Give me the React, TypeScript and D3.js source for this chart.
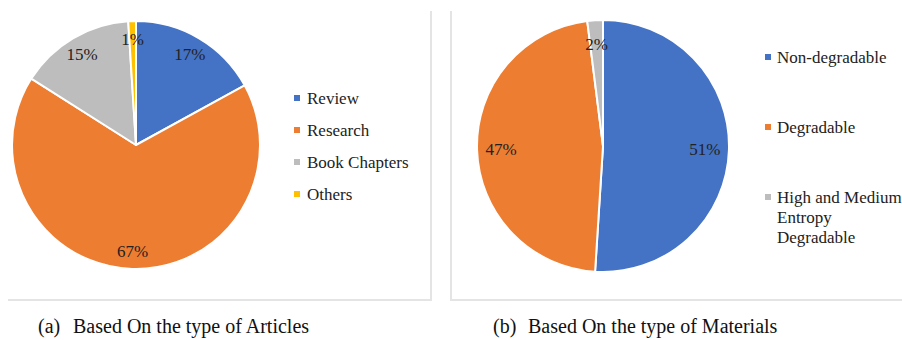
import React, { useMemo } from 'react';
import * as d3 from 'd3';

const articleTypes = ['Review', 'Research', 'Book Chapters', 'Others'];
const articleShares = [17, 67, 15, 1];
const materialTypes = ['Non-degradable', 'Degradable', 'High and Medium Entropy Degradable'];
const materialLegendLines = [['Non-degradable'], ['Degradable'], ['High and Medium', 'Entropy', 'Degradable']];
const materialShares = [51, 47, 2];
const captionTags = ['(a)', '(b)'];
const captionTexts = ['Based On the type of Articles', 'Based On the type of Materials'];

const palette = ['#4472C4', '#ED7D31', '#BDBDBD', '#FFC000'];
const serif = { fontFamily: "'Liberation Serif', 'Times New Roman', serif" };

interface PieProps {
  values: number[];
  cx: number;
  cy: number;
  r: number;
  labelR: number;
}

const Pie: React.FC<PieProps> = ({ values, cx, cy, r, labelR }) => {
  const arcs = useMemo(() => d3.pie<number>().sort(null)(values), [values]);
  const arc = d3.arc<d3.PieArcDatum<number>>().innerRadius(0).outerRadius(r);
  const labelArc = d3.arc<d3.PieArcDatum<number>>().innerRadius(labelR).outerRadius(labelR);
  return (
    <g transform={`translate(${cx},${cy})`}>
      {arcs.map((a, i) => (
        <path key={i} d={arc(a) || ''} fill={palette[i]} stroke="#fff" strokeWidth={2} strokeLinejoin="round" />
      ))}
      {arcs.map((a, i) => {
        const [x, y] = labelArc.centroid(a);
        return (
          <text key={'l' + i} x={x} y={y + 6} textAnchor="middle" fontSize={17} fill="#222" style={serif}>
            {a.data + '%'}
          </text>
        );
      })}
    </g>
  );
};

export default function App() {
  return (
    <svg width={902} height={340} style={{ position: 'absolute', left: 0, top: 0, background: '#fff' }}>
      {/* panel frames: only the visible edges */}
      <path d="M431,11V300H8" fill="none" stroke="#e4e4e4" strokeWidth={2} />
      <path d="M451,11V300H902" fill="none" stroke="#e4e4e4" strokeWidth={2} />

      <Pie values={articleShares} cx={136} cy={145} r={124} labelR={106} />
      <Pie values={materialShares} cx={603} cy={146} r={126} labelR={102} />

      {/* legend (a) */}
      {articleTypes.map((t, i) => (
        <g key={t} transform={`translate(294,${98 + i * 32})`}>
          <rect x={0} y={-3} width={6} height={6} fill={palette[i]} />
          <text x={13} y={6} fontSize={17} fill="#222" style={serif}>{t}</text>
        </g>
      ))}

      {/* legend (b) */}
      {materialTypes.map((t, i) => (
        <g key={t} transform={`translate(765,${57 + i * 70})`}>
          <rect x={0} y={-3} width={6} height={6} fill={palette[i]} />
          {materialLegendLines[i].map((line, j) => (
            <text key={j} x={12} y={6 + j * 20} fontSize={17} fill="#222" style={serif}>{line}</text>
          ))}
        </g>
      ))}

      {/* captions */}
      {captionTags.map((tag, i) => (
        <g key={tag} transform={`translate(${i === 0 ? 38 : 493},333)`}>
          <text x={0} y={0} fontSize={20} fill="#111" style={serif}>{tag}</text>
          <text x={35} y={0} fontSize={20} fill="#111" style={serif}>{captionTexts[i]}</text>
        </g>
      ))}
    </svg>
  );
}
